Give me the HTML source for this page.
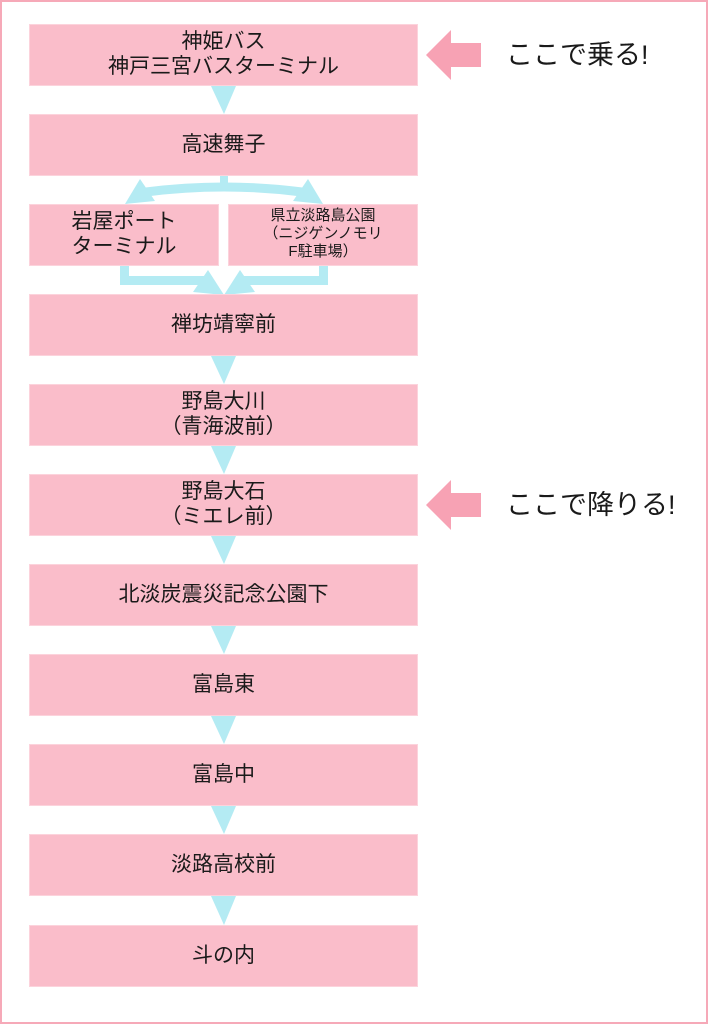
<!DOCTYPE html>
<html><head><meta charset="utf-8"><style>
html,body{margin:0;padding:0;}
body{width:708px;height:1024px;position:relative;overflow:hidden;background:#fff;font-family:"Liberation Sans","Noto Sans CJK JP",sans-serif;color:#1a1a1a;}
.frame{position:absolute;left:0;top:0;width:704px;height:1020px;border:2px solid #F6A9B8;}
.box{position:absolute;left:29px;width:387px;height:60px;background:#FABDCA;border:1px solid #FCD3DC;display:flex;align-items:center;justify-content:center;text-align:center;font-size:21px;line-height:25px;box-sizing:content-box;padding-bottom:0;}
.box span{position:relative;top:-1px;}
.side{position:absolute;font-size:27px;line-height:32px;color:#1a1a1a;white-space:nowrap;}
svg{position:absolute;left:0;top:0;}
</style></head><body>
<div class="frame"></div>
<svg width="708" height="1024" viewBox="0 0 708 1024">
<g fill="#B4EBF3">
<polygon points="211,86 236,86 224,114"/>
<!-- split -->
<rect x="220" y="175" width="8" height="14"/>
<path d="M146,192 Q224,182 302,192" stroke="#B4EBF3" stroke-width="9" fill="none"/>
<polygon points="140,179 125,204 155,201"/>
<polygon points="308,179 323,204 293,201"/>
<!-- merge -->
<rect x="120" y="265" width="9" height="20"/>
<rect x="120" y="276" width="92" height="9"/>
<polygon points="208,270 193,292 224,295"/>
<rect x="319" y="265" width="9" height="20"/>
<rect x="236" y="276" width="92" height="9"/>
<polygon points="240,270 255,292 224,295"/>
<polygon points="211,356 236,356 224,384"/>
<polygon points="211,446 236,446 224,474"/>
<polygon points="211,536 236,536 224,564"/>
<polygon points="211,626 236,626 224,654"/>
<polygon points="211,716 236,716 224,744"/>
<polygon points="211,806 236,806 224,834"/>
<polygon points="211,896 236,896 224,925"/>
</g>
<g fill="#F7A2B4">
<polygon points="426,55 451,30 451,43 481,43 481,67 451,67 451,80"/>
<polygon points="426,505 451,480 451,493 481,493 481,517 451,517 451,530"/>
</g>
</svg>

<div class="box" style="top:24px;"><span>神姫バス<br>神戸三宮バスターミナル</span></div>
<div class="box" style="top:114px;"><span>高速舞子</span></div>
<div class="box" style="top:204px;left:29px;width:188px;"><span>岩屋ポート<br>ターミナル</span></div>
<div class="box" style="top:204px;left:228px;width:188px;font-size:15px;line-height:18px;"><span>県立淡路島公園<br>（ニジゲンノモリ<br>F駐車場）</span></div>
<div class="box" style="top:294px;"><span>禅坊靖寧前</span></div>
<div class="box" style="top:384px;"><span>野島大川<br>（青海波前）</span></div>
<div class="box" style="top:474px;"><span>野島大石<br>（ミエレ前）</span></div>
<div class="box" style="top:564px;"><span>北淡炭震災記念公園下</span></div>
<div class="box" style="top:654px;"><span>富島東</span></div>
<div class="box" style="top:744px;"><span>富島中</span></div>
<div class="box" style="top:834px;"><span>淡路高校前</span></div>
<div class="box" style="top:925px;"><span>斗の内</span></div>

<div class="side" style="left:506px;top:39px;">ここで乗る!</div>
<div class="side" style="left:506px;top:489px;">ここで降りる!</div>
</body></html>
